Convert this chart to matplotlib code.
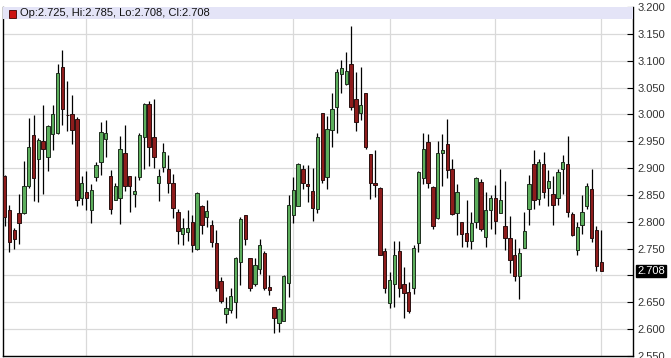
import numpy as np
import matplotlib.pyplot as plt
from matplotlib.patches import Rectangle

# daily OHLC
opens = [2.886, 2.822, 2.785, 2.817, 2.817, 2.867, 2.961, 2.916, 2.951, 2.920,
         2.964, 2.966, 3.088, 2.999, 3.001, 2.991, 2.844, 2.856, 2.821, 2.883,
         2.912, 2.955, 2.886, 2.841, 2.844, 2.928, 2.885, 2.851, 2.884, 2.957,
         3.019, 2.957, 2.873, 2.902, 2.898, 2.873, 2.819, 2.778, 2.781, 2.800,
         2.749, 2.830, 2.809, 2.794, 2.761, 2.690, 2.628, 2.636, 2.650, 2.726,
         2.813, 2.733, 2.685, 2.712, 2.742, 2.678, 2.642, 2.611, 2.616, 2.686,
         2.812, 2.830, 2.898, 2.870, 2.857, 2.824, 3.002, 2.883, 2.970, 3.014,
         3.075, 3.057, 3.093, 3.029, 3.003, 3.039, 2.927, 2.872, 2.863, 2.746,
         2.648, 2.685, 2.745, 2.684, 2.670, 2.676, 2.761, 2.881, 2.949, 2.864,
         2.807, 2.929, 2.944, 2.898, 2.816, 2.799, 2.779, 2.764, 2.799, 2.874,
         2.772, 2.821, 2.844, 2.816, 2.793, 2.770, 2.738, 2.699, 2.751, 2.824,
         2.907, 2.842, 2.907, 2.862, 2.852, 2.844, 2.899, 2.907, 2.815, 2.747,
         2.794, 2.829, 2.861, 2.785, 2.725]
highs = [2.888, 2.831, 2.789, 2.851, 2.914, 2.994, 2.998, 2.956, 3.018, 2.980,
         3.017, 3.093, 3.119, 3.062, 3.037, 2.995, 2.886, 2.894, 2.870, 2.912,
         2.985, 2.990, 2.897, 2.872, 2.959, 2.980, 2.885, 2.885, 2.966, 3.022,
         3.024, 3.028, 2.899, 2.947, 2.924, 2.889, 2.824, 2.807, 2.822, 2.812,
         2.855, 2.831, 2.841, 2.804, 2.784, 2.697, 2.660, 2.677, 2.735, 2.809,
         2.813, 2.733, 2.732, 2.767, 2.745, 2.701, 2.642, 2.640, 2.701, 2.850,
         2.883, 2.910, 2.906, 2.906, 2.901, 2.965, 3.002, 2.997, 3.040, 3.085,
         3.101, 3.117, 3.165, 3.079, 3.088, 3.039, 2.927, 2.933, 2.864, 2.751,
         2.707, 2.765, 2.765, 2.716, 2.688, 2.757, 2.895, 2.965, 2.964, 2.866,
         2.951, 2.963, 2.991, 2.917, 2.870, 2.799, 2.841, 2.818, 2.883, 2.880,
         2.856, 2.849, 2.869, 2.898, 2.875, 2.811, 2.768, 2.751, 2.818, 2.887,
         2.933, 2.917, 2.930, 2.897, 2.885, 2.899, 2.924, 2.960, 2.819, 2.799,
         2.850, 2.872, 2.898, 2.792, 2.785]
lows = [2.792, 2.743, 2.749, 2.759, 2.814, 2.862, 2.839, 2.836, 2.852, 2.895,
        2.934, 2.963, 2.981, 2.969, 2.944, 2.830, 2.831, 2.822, 2.798, 2.875,
        2.887, 2.920, 2.815, 2.840, 2.796, 2.858, 2.818, 2.827, 2.878, 2.899,
        2.903, 2.901, 2.838, 2.892, 2.854, 2.807, 2.759, 2.756, 2.765, 2.744,
        2.748, 2.778, 2.790, 2.753, 2.671, 2.648, 2.611, 2.630, 2.620, 2.682,
        2.756, 2.671, 2.680, 2.702, 2.673, 2.664, 2.593, 2.594, 2.615, 2.659,
        2.797, 2.830, 2.861, 2.836, 2.802, 2.816, 2.873, 2.861, 2.940, 2.966,
        3.040, 3.055, 3.009, 2.969, 2.990, 2.935, 2.843, 2.846, 2.738, 2.668,
        2.639, 2.642, 2.660, 2.620, 2.630, 2.665, 2.744, 2.870, 2.862, 2.787,
        2.806, 2.867, 2.882, 2.813, 2.776, 2.753, 2.753, 2.750, 2.788, 2.782,
        2.753, 2.787, 2.778, 2.816, 2.747, 2.704, 2.690, 2.657, 2.751, 2.794,
        2.824, 2.831, 2.844, 2.830, 2.794, 2.831, 2.852, 2.809, 2.773, 2.738,
        2.778, 2.824, 2.763, 2.708, 2.708]
closes = [2.809, 2.762, 2.767, 2.797, 2.867, 2.940, 2.881, 2.952, 2.935, 2.978,
          3.001, 3.078, 3.010, 2.998, 2.971, 2.841, 2.872, 2.844, 2.859, 2.906,
          2.968, 2.965, 2.824, 2.866, 2.936, 2.867, 2.866, 2.857, 2.961, 3.019,
          2.940, 2.920, 2.885, 2.930, 2.872, 2.825, 2.782, 2.788, 2.788, 2.756,
          2.854, 2.794, 2.820, 2.762, 2.677, 2.652, 2.639, 2.661, 2.733, 2.806,
          2.767, 2.677, 2.719, 2.757, 2.677, 2.673, 2.620, 2.638, 2.699, 2.831,
          2.859, 2.907, 2.872, 2.866, 2.825, 2.958, 2.878, 2.973, 3.010, 3.079,
          3.086, 3.081, 3.014, 2.985, 3.018, 2.940, 2.872, 2.869, 2.738, 2.677,
          2.691, 2.739, 2.677, 2.667, 2.634, 2.751, 2.893, 2.935, 2.872, 2.793,
          2.928, 2.933, 2.897, 2.814, 2.855, 2.778, 2.764, 2.798, 2.881, 2.787,
          2.821, 2.844, 2.801, 2.841, 2.769, 2.728, 2.699, 2.741, 2.783, 2.870,
          2.841, 2.912, 2.855, 2.876, 2.832, 2.893, 2.912, 2.819, 2.776, 2.790,
          2.818, 2.867, 2.770, 2.718, 2.708]

# candle index where each new month starts (vertical grid)
month_starts = [17, 39, 60, 80, 102, 124]
price_ticks = np.arange(2.55, 3.2001, 0.05)

o = np.array(opens)
h = np.array(highs)
l = np.array(lows)
c = np.array(closes)
x = np.arange(len(o))
up = c >= o

fig = plt.figure(figsize=(6.71, 3.58), dpi=100)
ax = fig.add_axes([3 / 671, 2 / 358, 630 / 671, 349 / 358])

ax.set_xlim(-0.35, 130.6)
ax.set_ylim(2.5537, 3.2)

for yv in price_ticks:
    ax.axhline(yv, color='#d9d9d9', lw=0.9, zorder=0)
for xv in month_starts:
    ax.axvline(xv, color='#d9d9d9', lw=0.9, zorder=0)

ax.vlines(x, l, h, color='black', lw=0.9, zorder=2)
body_lo = np.minimum(o, c)
body_h = np.maximum(np.abs(c - o), 0.0015)
ax.bar(x[up], body_h[up], bottom=body_lo[up], width=0.7,
       color='#5cae5c', edgecolor='#1e2e1e', lw=0.7, zorder=3)
ax.bar(x[~up], body_h[~up], bottom=body_lo[~up], width=0.7,
       color='#8e1c1c', edgecolor='#2a1010', lw=0.7, zorder=3)

# legend band on top
ax.add_patch(Rectangle((0, 1 - 12 / 349), 1, 12 / 349, transform=ax.transAxes,
                       facecolor='#e4e4f7', edgecolor='none', zorder=4))
ax.add_patch(Rectangle((6 / 630, 1 - 10.5 / 349), 7 / 630, 7.5 / 349,
                       transform=ax.transAxes, facecolor='#cc1111',
                       edgecolor='#400000', lw=0.6, zorder=5))
ax.text(17 / 630, 1 - 6 / 349,
        'Op:%.3f, Hi:%.3f, Lo:%.3f, Cl:%.3f' % (o[-1], h[-1], l[-1], c[-1]),
        transform=ax.transAxes, va='center', ha='left', fontsize=8,
        family='Liberation Sans', color='#111111', zorder=6)

# the last-price box covers the 2.700 label
ax.yaxis.tick_right()
ax.set_yticks(price_ticks)
ax.set_yticklabels(['' if abs(t - 2.70) < 1e-6 else '%.3f' % t
                    for t in price_ticks])
ax.tick_params(axis='y', direction='in', length=4, width=0.8, pad=3,
               labelsize=8, labelcolor='#333333', color='black')
for lab in ax.get_yticklabels():
    lab.set_family('Liberation Sans')
ax.set_xticks([])
ax.spines['top'].set_visible(False)
for s in ['left', 'right', 'bottom']:
    ax.spines[s].set_color('black')
    ax.spines[s].set_linewidth(1.0)

# last price marker on the axis
ax.annotate('%.3f' % c[-1], xy=(1, c[-1]), xycoords=('axes fraction', 'data'),
            xytext=(3, 0), textcoords='offset points', va='center', ha='left',
            fontsize=8, family='Liberation Sans', color='white',
            bbox=dict(boxstyle='square,pad=0.12', fc='black', ec='black'),
            annotation_clip=False, zorder=7)

fig.savefig('out.png', dpi=100)
